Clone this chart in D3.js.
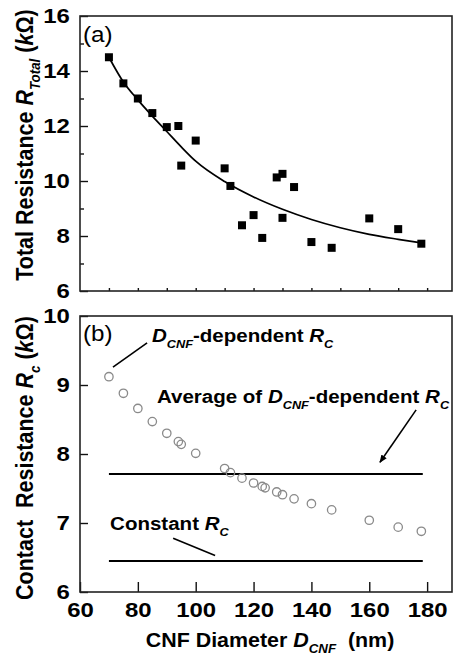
<!DOCTYPE html>
<html>
<head>
<meta charset="utf-8">
<script src="https://cdn.jsdelivr.net/npm/d3@7"></script>
<style>
  body { margin: 0; background: #fff; }
  svg { display: block; }
  text { font-family: "Liberation Sans", Arial, sans-serif; fill: #000; white-space: pre; }
</style>
</head>
<body>
<svg id="chart" width="453" height="659"></svg>
<script>
"use strict";

// ── data ─────────────────────────────────────────────────────────────────────
// (a) total resistance vs CNF diameter
const diamA  = [70, 75, 80, 85, 90, 94, 95, 100, 110, 112, 116, 120, 123, 128, 130, 130, 134, 140, 147, 160, 170, 178];
const rTotal = [14.5, 13.55, 13.0, 12.47, 11.96, 12.0, 10.56, 11.47, 10.46, 9.82, 8.39, 8.76, 7.93, 10.13, 10.26, 8.66, 9.78, 7.78, 7.57, 8.64, 8.25, 7.72];
// fitted curve, sampled from the figure
const fitD = [70, 75, 80, 85, 90, 95, 100, 110, 120, 130, 140, 150, 160, 170, 178];
const fitR = [14.5, 13.6, 12.95, 12.36, 11.8, 11.24, 10.72, 9.98, 9.42, 8.97, 8.6, 8.3, 8.06, 7.88, 7.75];
// (b) contact resistance vs CNF diameter
const diamB    = [70, 75, 80, 85, 90, 94, 95, 100, 110, 112, 116, 120, 123, 124, 128, 130, 134, 140, 147, 160, 170, 178];
const rContact = [9.12, 8.88, 8.66, 8.47, 8.30, 8.18, 8.14, 8.01, 7.79, 7.73, 7.65, 7.58, 7.53, 7.51, 7.45, 7.41, 7.35, 7.28, 7.19, 7.04, 6.94, 6.88];
const avgRc   = 7.71;
const constRc = 6.45;
const lineSpan = [70, 178.5];

// ticks
const xTicksB   = [60, 80, 100, 120, 140, 160, 180];
const xMinorA   = [70, 80, 90, 100, 110, 120, 130, 140, 150, 160, 170, 180];
const yTicksA   = [6, 8, 10, 12, 14, 16];
const yMinorA   = [7, 9, 11, 13, 15];
const yTicksB   = [6, 7, 8, 9, 10];

// annotation anchors (data coords)
const leaderDep   = [[83.2, 9.61], [71.4, 9.26]];
const arrowAvg    = [[176.2, 8.64], [163.7, 7.88]];
const leaderConst = [[92.2, 6.78], [106.7, 6.53]];

// ── layout ───────────────────────────────────────────────────────────────────
const SX = 1.14;          // tick glyphs in the figure are wider than Arial
const svg = d3.select("#chart");
const plotL = 80, plotR = 452;
const x  = d3.scaleLinear().domain([60, 188.6]).range([plotL, plotR]);
const yA = d3.scaleLinear().domain([6, 16]).range([291, 16]);
const yB = d3.scaleLinear().domain([6, 10]).range([592, 316]);

const defs = svg.append("defs");
defs.append("marker")
  .attr("id", "arrow").attr("viewBox", "0 -5 10 10")
  .attr("refX", 9).attr("refY", 0)
  .attr("markerUnits", "userSpaceOnUse")
  .attr("markerWidth", 8).attr("markerHeight", 8)
  .attr("orient", "auto")
  .append("path").attr("d", "M0,-4L10,0L0,4Z").attr("fill", "#000");

// rich text: parts = ["plain", ["txt","i"], ["txt","is"] ...]  i=italic s=subscript
function rich(parent, px, py, parts, opts) {
  const o = Object.assign({ anchor: "start", size: 20, weight: "bold", rotate: false, sx: SX }, opts || {});
  const g = parent.append("g")
    .attr("transform", `translate(${px},${py}) scale(${o.sx},1)` + (o.rotate ? " rotate(-90)" : ""));
  const t = g.append("text")
    .attr("text-anchor", o.anchor)
    .attr("font-size", o.size)
    .attr("font-weight", o.weight);
  let shift = 0;
  parts.forEach(p => {
    const str = typeof p === "string" ? p : p[0];
    const st  = typeof p === "string" ? "" : p[1];
    const ts = t.append("tspan").text(str);
    const target = st.includes("s") ? o.size * 0.3 : 0;
    if (target !== shift) { ts.attr("dy", target - shift); shift = target; }
    if (st.includes("i")) ts.attr("font-style", "italic");
    if (st.includes("s")) ts.attr("font-size", o.size * 0.62);
  });
  return g;
}

function styleAxis(ax) {
  ax.select(".domain").remove();
  ax.selectAll(".tick line").attr("stroke", "#111").attr("stroke-width", 1.4);
  ax.selectAll("text")
    .attr("font-size", 21).attr("font-weight", "bold")
    .attr("fill", "#000").attr("font-family", "Liberation Sans, Arial, sans-serif")
    .attr("transform", `scale(${SX},1)`);
}

// ── panel (a) ────────────────────────────────────────────────────────────────
const gA = svg.append("g");
gA.append("g").attr("transform", `translate(${plotL},0)`)
  .call(d3.axisLeft(yA).tickValues(yTicksA).tickSize(-8).tickPadding(9).tickFormat(d3.format("d")))
  .call(styleAxis);
gA.append("g").attr("transform", `translate(${plotL},0)`)
  .call(d3.axisLeft(yA).tickValues(yMinorA).tickSize(-4).tickFormat(""))
  .call(styleAxis);
gA.append("g").attr("transform", `translate(0,${yA(6)})`)
  .call(d3.axisBottom(x).tickValues(xMinorA).tickSize(-3).tickFormat(""))
  .call(styleAxis);
gA.append("rect")
  .attr("x", plotL).attr("y", yA(16))
  .attr("width", plotR - plotL).attr("height", yA(6) - yA(16))
  .attr("fill", "none").attr("stroke", "#222").attr("stroke-width", 1.6);

gA.append("path")
  .datum(fitD.map((d, i) => [d, fitR[i]]))
  .attr("fill", "none").attr("stroke", "#000").attr("stroke-width", 1.7)
  .attr("d", d3.line().x(d => x(d[0])).y(d => yA(d[1])).curve(d3.curveMonotoneX));

gA.selectAll("rect.pt").data(diamA.map((d, i) => [d, rTotal[i]])).enter()
  .append("rect").attr("class", "pt")
  .attr("x", d => x(d[0]) - 4).attr("y", d => yA(d[1]) - 4)
  .attr("width", 8).attr("height", 8).attr("fill", "#000");

rich(gA, 83, 42, ["(a)"], { weight: "normal", size: 22, sx: 1.1 });

rich(gA, 33, 145, ["Total Resistance ", ["R", "i"], ["Total", "is"], " (", ["k", "i"], "\u03A9)"],
  { anchor: "middle", size: 21.5, rotate: true, sx: 1.1 });

// ── panel (b) ────────────────────────────────────────────────────────────────
const gB = svg.append("g");
gB.append("g").attr("transform", `translate(${plotL},0)`)
  .call(d3.axisLeft(yB).tickValues(yTicksB).tickSize(-8).tickPadding(9).tickFormat(d3.format("d")))
  .call(styleAxis);
gB.append("g").attr("transform", `translate(0,${yB(6)})`)
  .call(d3.axisBottom(x).tickValues(xTicksB).tickSize(-10).tickPadding(10).tickFormat(d3.format("d")))
  .call(styleAxis);
gB.append("rect")
  .attr("x", plotL).attr("y", yB(10))
  .attr("width", plotR - plotL).attr("height", yB(6) - yB(10))
  .attr("fill", "none").attr("stroke", "#222").attr("stroke-width", 1.6);

[avgRc, constRc].forEach(v => {
  gB.append("line")
    .attr("x1", x(lineSpan[0])).attr("x2", x(lineSpan[1]))
    .attr("y1", yB(v)).attr("y2", yB(v))
    .attr("stroke", "#000").attr("stroke-width", 2);
});

gB.selectAll("circle").data(diamB.map((d, i) => [d, rContact[i]])).enter()
  .append("circle")
  .attr("cx", d => x(d[0])).attr("cy", d => yB(d[1])).attr("r", 4.2)
  .attr("fill", "none").attr("stroke", "#8a8a8a").attr("stroke-width", 1.3);

const seg = d3.line().x(d => x(d[0])).y(d => yB(d[1]));
gB.append("path").datum(leaderDep).attr("d", seg)
  .attr("stroke", "#000").attr("stroke-width", 1.6);
gB.append("path").datum(leaderConst).attr("d", seg)
  .attr("stroke", "#000").attr("stroke-width", 1.6);
gB.append("path").datum(arrowAvg).attr("d", seg)
  .attr("stroke", "#000").attr("stroke-width", 1.6).attr("marker-end", "url(#arrow)");

rich(gB, 83, 341, ["(b)"], { weight: "normal", size: 22, sx: 1.1 });

const annoOpts = { size: 19, sx: 1.08 };
rich(gB, x(84.9), yB(9.62), [["D", "i"], ["CNF", "is"], "-dependent ", ["R", "i"], ["C", "is"]], annoOpts);
rich(gB, x(86.6), yB(8.74), ["Average of ", ["D", "i"], ["CNF", "is"], "-dependent ", ["R", "i"], ["C", "is"]], annoOpts);
rich(gB, x(70.4), yB(6.9), ["Constant ", ["R", "i"], ["C", "is"]], annoOpts);

rich(gB, 33, 458, ["Contact  Resistance ", ["R", "i"], ["c", "is"], " (", ["k", "i"], "\u03A9)"],
  { anchor: "middle", size: 21.5, rotate: true, sx: 1.1 });

rich(svg, 270, 647, ["CNF Diameter ", ["D", "i"], ["CNF", "is"], "  (nm)"],
  { anchor: "middle", size: 21, sx: 1.02 });
</script>
</body>
</html>
